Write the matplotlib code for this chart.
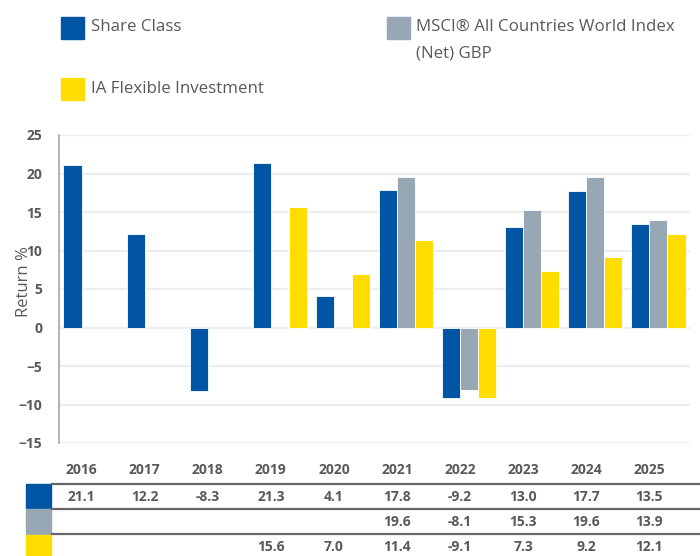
import matplotlib.pyplot as plt
import numpy as np
from matplotlib.patches import Rectangle
from matplotlib.lines import Line2D
import matplotlib.transforms as mtransforms

plt.rcParams['font.family'] = ['Open Sans', 'DejaVu Sans']

years = ['2016', '2017', '2018', '2019', '2020', '2021', '2022', '2023', '2024', '2025']
share_class = [21.1, 12.2, -8.3, 21.3, 4.1, 17.8, -9.2, 13.0, 17.7, 13.5]
msci = [None, None, None, None, None, 19.6, -8.1, 15.3, 19.6, 13.9]
ia_flex = [None, None, None, 15.6, 7.0, 11.4, -9.1, 7.3, 9.2, 12.1]
series_names = [['Share Class'], ['MSCI® All Countries World Index', '(Net) GBP'],
                ['IA Flexible Investment']]

BLUE = '#0055A4'
GREY = '#97A7B3'
YELLOW = '#FFDD00'
TXT = '#595959'

W, H = 700, 556


def fx(px):
    return px / W


def fy(py):
    return 1 - py / H


fig = plt.figure(figsize=(7, 5.56), dpi=100)
ax = fig.add_axes([fx(59), fy(443), fx(690) - fx(59), fy(135) - fy(443)])

x = np.arange(len(years))
bw = 0.286
series = [share_class, msci, ia_flex]
colors = [BLUE, GREY, YELLOW]
for k, (vals, col) in enumerate(zip(series, colors)):
    v = np.array([np.nan if a is None else a for a in vals], dtype=float)
    ax.bar(x + (k - 1) * bw, v, bw, color=col, edgecolor='white', linewidth=0.6, zorder=3)

ax.set_xlim(-0.5, 9.5)
ax.set_ylim(-15, 25)
ax.set_yticks(np.arange(-15, 26, 5))
ax.set_xticks([])
ax.grid(axis='y', color='#EDEDED', linewidth=1.6, zorder=0)
for s in ['top', 'right', 'bottom']:
    ax.spines[s].set_visible(False)
ax.spines['left'].set_color('#A6A6A6')
ax.spines['left'].set_linewidth(1.2)
ax.tick_params(axis='y', length=0, pad=12, labelsize=10, labelcolor=TXT)
for lbl in ax.get_yticklabels():
    lbl.set_fontweight('bold')
fig.text(fx(24), fy(282), 'Return %', rotation=90, ha='center', va='center',
         fontsize=12, color=TXT)

# table below the chart
trans = mtransforms.blended_transform_factory(ax.transData, fig.transFigure)
off = -0.143
for i, yr in enumerate(years):
    fig.text(i + off, fy(470), yr, transform=trans, ha='center', va='center',
             fontsize=10, fontweight='bold', color=TXT)
row_y = [497, 522, 547]
for vals, ry in zip(series, row_y):
    for i, v in enumerate(vals):
        if v is None:
            continue
        fig.text(i + off, fy(ry), '%.1f' % v, transform=trans, ha='center', va='center',
                 fontsize=10, fontweight='bold', color=TXT)
for ly in [484, 509, 534]:
    fig.add_artist(Line2D([fx(52), 1], [fy(ly), fy(ly)], color='#666666', linewidth=1.6))
sw = [(484, 508), (509, 534), (535, 556)]
for (y0, y1), col in zip(sw, colors):
    fig.patches.append(Rectangle((fx(26), fy(y1)), fx(51) - fx(26), fy(y0) - fy(y1),
                                 transform=fig.transFigure, color=col))

# legend on top
leg = [(61, 17, 91, [27]), (387, 17, 416, [27, 53]), (61, 78, 91, [89])]
for (sx, sy, tx, tys), col, lines in zip(leg, colors, series_names):
    fig.patches.append(Rectangle((fx(sx), fy(sy + 22)), fx(23), 22 / H,
                                 transform=fig.transFigure, color=col))
    for ty, line in zip(tys, lines):
        fig.text(fx(tx), fy(ty), line, ha='left', va='center', fontsize=12.2, color=TXT)

fig.savefig('out.png', dpi=100)
